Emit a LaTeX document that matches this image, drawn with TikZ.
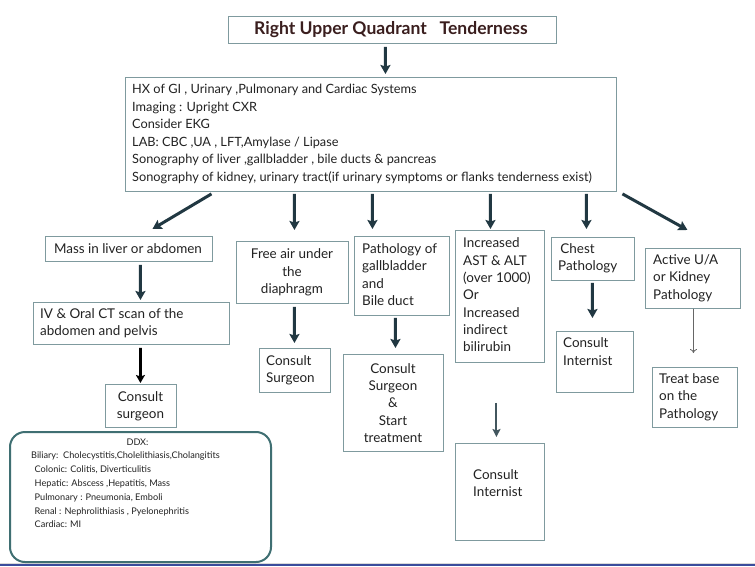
\documentclass[tikz,border=0pt]{standalone}
\usepackage{fontspec}
\setmainfont{Lato}
\usetikzlibrary{arrows.meta,calc}
\definecolor{txt}{HTML}{222222}
\definecolor{bord}{HTML}{7F9A9E}
\definecolor{arr}{HTML}{213842}
\definecolor{ttl}{HTML}{3A1E1E}
\definecolor{ddxb}{HTML}{3F6F72}
\definecolor{bline}{HTML}{3A4C9C}
\begin{document}
\begin{tikzpicture}[x=1bp,y=-1bp,
  box/.style={draw=bord, line width=0.9bp, rectangle, inner sep=0pt, anchor=north west},
  rowtxt/.style={inner sep=0pt, text=txt, font=\fontsize{13.5}{17.4}\selectfont},
  bigtxt/.style={inner sep=0pt, text=txt, font=\fontsize{12.8}{17.6}\selectfont},
  ddxtxt/.style={inner sep=0pt, text=txt, font=\fontsize{9.2}{13.8}\selectfont},
  thick arrow/.style={draw=arr, line width=3bp, -{Stealth[length=9bp,width=10bp,inset=1.5bp]}},
  black arrow/.style={draw=black, line width=2.6bp, -{Stealth[length=8bp,width=9bp,inset=1.5bp]}},
  mid arrow/.style={draw=arr!85, line width=2bp, -{Stealth[length=8bp,width=8bp,inset=1.5bp]}},
  thin arrow/.style={draw=black!60, line width=0.8bp, -{To[length=4bp,width=7bp]}}]
\useasboundingbox (0,0) rectangle (755,567);
\fill[white] (0,0) rectangle (755,567);
% bottom band
\fill[bline] (0,564.2) rectangle (755,566.4);
\draw[black!15, line width=0.5bp] (0,562.8) -- (755,562.8);

% boxes
\node[box, minimum width=328bp, minimum height=27bp] (title) at (228,16) {};
\node[box, minimum width=491bp, minimum height=114bp] (big) at (125,77) {};
\node[box, minimum width=167bp, minimum height=25bp] (mass) at (45,236) {};
\node[box, minimum width=112bp, minimum height=62bp] (free) at (236,241) {};
\node[box, minimum width=95bp, minimum height=79bp] (path) at (354,236) {};
\node[box, minimum width=89bp, minimum height=132bp] (ast) at (455,230) {};
\node[box, minimum width=83bp, minimum height=43bp] (chest) at (551,237) {};
\node[box, minimum width=95bp, minimum height=60bp] (active) at (645,248) {};
\node[box, minimum width=196bp, minimum height=42bp] (iv) at (33,302) {};
\node[box, minimum width=71bp, minimum height=43bp] (cs1) at (105,384) {};
\node[box, minimum width=71bp, minimum height=44bp] (cs2) at (259,348) {};
\node[box, minimum width=100bp, minimum height=97bp] (cs3) at (343,354) {};
\node[box, minimum width=89bp, minimum height=97bp] (ci1) at (455,443) {};
\node[box, minimum width=77bp, minimum height=61bp] (ci2) at (556,331) {};
\node[box, minimum width=85bp, minimum height=60bp] (treat) at (652,367) {};
\node[draw=ddxb, line width=2bp, rounded corners=15bp, rectangle, inner sep=0pt, anchor=north west,
      minimum width=261bp, minimum height=130bp] (ddx) at (9,431) {};

% texts
\node[inner sep=0pt, text=ttl, font=\fontsize{17.6}{20}\selectfont\bfseries] (ttltext) at (391,30) {Right Upper Quadrant\ \ \ Tenderness};
\node[bigtxt, anchor=west, align=left] (bigtext) at (132,134) {HX of GI , Urinary ,Pulmonary and Cardiac Systems\\
Imaging : Upright CXR\\
Consider EKG\\
LAB: CBC ,UA , LFT,Amylase / Lipase\\
Sonography of liver ,gallbladder , bile ducts \& pancreas\\
Sonography of kidney, urinary tract(if urinary symptoms or flanks tenderness exist)};
\node[rowtxt] (masstext) at (128,248.5) {Mass in liver or abdomen};
\node[rowtxt, align=center] (freetext) at (292,272.5) {Free air under\\the\\diaphragm};
\node[rowtxt, anchor=west, align=left] (pathtext) at (362,274.5) {Pathology of\\gallbladder\\and\\Bile duct};
\node[rowtxt, anchor=west, align=left] (asttext) at (463,295) {Increased\\AST \& ALT\\(over 1000)\\Or\\Increased\\indirect\\bilirubin};
\node[rowtxt, anchor=west, align=left] (chesttext) at (558,258.5) {\,Chest\\Pathology};
\node[rowtxt, anchor=west, align=left] (activetext) at (653,278) {Active U/A\\or Kidney\\Pathology};
\node[rowtxt, anchor=west, align=left] (ivtext) at (40,323) {IV \& Oral CT scan of the\\abdomen and pelvis};
\node[rowtxt, align=center] (cs1text) at (140.5,406) {Consult\\surgeon};
\node[rowtxt, anchor=west, align=left] (cs2text) at (266,370) {Consult\\Surgeon};
\node[rowtxt, align=center] (cs3text) at (393,403) {Consult\\Surgeon\\\&\\Start\\treatment};
\node[rowtxt, anchor=west, align=left] (ci1text) at (473,483) {Consult\\Internist};
\node[rowtxt, anchor=west, align=left] (ci2text) at (563,351.5) {Consult\\Internist};
\node[rowtxt, anchor=west, align=left] (treattext) at (659,397) {Treat base\\on the\\Pathology};
\node[ddxtxt] (ddxhead) at (137.5,442) {DDX:};
\node[ddxtxt, anchor=west] (ddx1) at (31,456) {Biliary:\ \ Cholecystitis,Cholelithiasis,Cholangitits};
\node[ddxtxt, anchor=west, align=left] (ddx2) at (34.5,497) {Colonic: Colitis, Diverticulitis\\
Hepatic: Abscess ,Hepatitis, Mass\\
Pulmonary : Pneumonia, Emboli\\
Renal : Nephrolithiasis , Pyelonephritis\\
Cardiac: MI};

% arrows
\draw[thick arrow] ($(title.south)+(-7,3)$) -- ($(big.north)+(14.5,-3)$);
\draw[thick arrow] ($(big.south)+(-159.5,2)$) -- ($(mass.north)+(23.5,-7)$);
\draw[thick arrow] ($(big.south)+(-76.5,2)$) -- ($(free.north)+(2,-11)$);
\draw[thick arrow] ($(big.south)+(1.5,2)$) -- ($(path.north)+(-29.5,-7)$);
\draw[thick arrow] ($(big.south)+(119.5,2)$) -- ($(ast.north)+(-9.5,-1)$);
\draw[thick arrow] ($(big.south)+(215.5,2)$) -- ($(chest.north)+(-6.5,-8)$);
\draw[thick arrow] ($(big.south)+(251.5,2)$) -- ($(active.north)+(-5.5,-18)$);
\draw[thick arrow] ($(mass.south)+(11.5,3)$) -- ($(iv.north)+(9,-2)$);
\draw[black arrow] ($(iv.south)+(9,3)$) -- ($(cs1.north)+(-0.5,-1)$);
\draw[thick arrow] ($(free.south)+(2,3)$) -- ($(cs2.north)+(-0.5,-5)$);
\draw[thick arrow] ($(path.south)+(-6.5,2)$) -- ($(cs3.north)+(2,-6)$);
\draw[mid arrow] ($(ast.south)+(-3.5,40)$) -- ($(ci1.north)+(-3.5,-6)$);
\draw[thick arrow] ($(chest.south)+(-0.5,2)$) -- ($(ci2.north)+(-2.5,-13)$);
\draw[thin arrow] ($(active.south)+(0.5,0)$) -- ($(treat.north)+(-1.5,-14)$);
\end{tikzpicture}
\end{document}
